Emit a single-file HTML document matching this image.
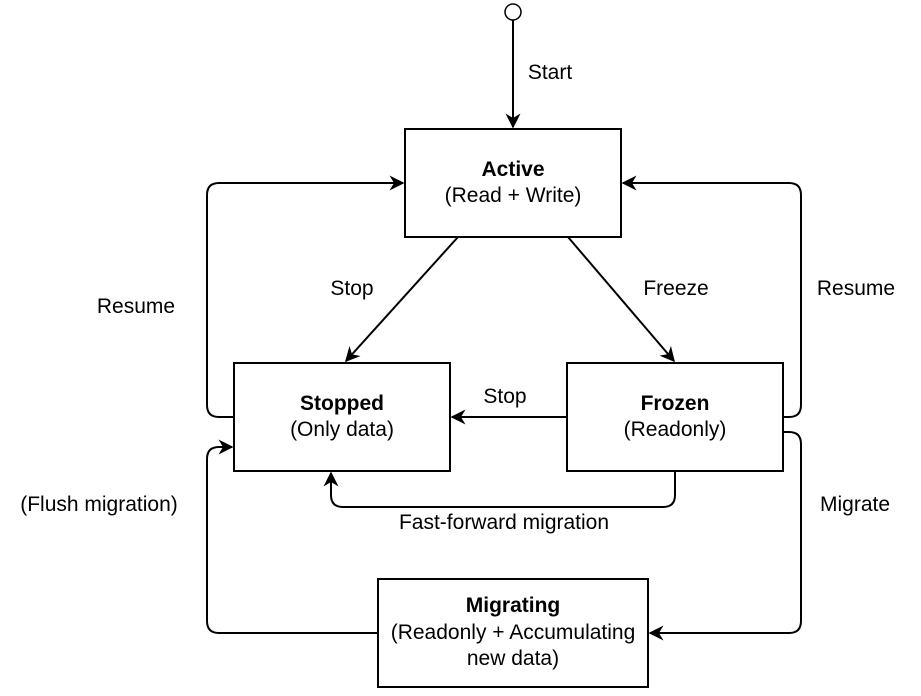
<!DOCTYPE html>
<html><head><style>body{margin:0;background:#fff}svg{display:block}text{font-family:"Liberation Sans",Arial,sans-serif;font-size:21px;fill:#000}</style></head>
<body>
<svg width="921" height="696" viewBox="0 0 921 696" xmlns="http://www.w3.org/2000/svg">
<defs><marker id="a" viewBox="0 0 10 10" refX="9" refY="5" markerWidth="15" markerHeight="15" markerUnits="userSpaceOnUse" orient="auto"><path d="M0,0 L10,5 L0,10 L3,5 z" fill="#000"/></marker></defs>
<g fill="none" stroke="#000" stroke-width="2">
<circle cx="513" cy="12" r="8" stroke-width="1.5"/>
<line x1="513" y1="20" x2="513" y2="127" marker-end="url(#a)"/>
<rect x="405" y="129" width="216" height="108"/>
<rect x="234" y="363" width="216" height="108"/>
<rect x="567" y="363" width="216" height="108"/>
<rect x="378" y="579" width="270" height="108"/>
<line x1="458" y1="237" x2="346" y2="361" marker-end="url(#a)"/>
<line x1="568" y1="237" x2="674" y2="361" marker-end="url(#a)"/>
<line x1="567" y1="417" x2="452" y2="417" marker-end="url(#a)"/>
<path d="M675,471 V495 Q675,507 663,507 H343 Q331,507 331,495 V473" marker-end="url(#a)"/>
<path d="M234,417 H219 Q207,417 207,405 V195 Q207,183 219,183 H403" marker-end="url(#a)"/>
<path d="M783,417 H789 Q801,417 801,405 V195 Q801,183 789,183 H623" marker-end="url(#a)"/>
<path d="M783,432 H789 Q801,432 801,444 V621 Q801,633 789,633 H650" marker-end="url(#a)"/>
<path d="M378,633 H219 Q207,633 207,621 V459 Q207,447 219,447 H232" marker-end="url(#a)"/>
</g>
<g text-anchor="middle">
<text x="513" y="176" font-weight="bold">Active</text>
<text x="513" y="202">(Read + Write)</text>
<text x="342" y="410" font-weight="bold">Stopped</text>
<text x="342" y="436">(Only data)</text>
<text x="675" y="410" font-weight="bold">Frozen</text>
<text x="675" y="436">(Readonly)</text>
<text x="513" y="612" font-weight="bold">Migrating</text>
<text x="513" y="639">(Readonly + Accumulating</text>
<text x="513" y="665">new data)</text>
<text x="550" y="79">Start</text>
<text x="352" y="295">Stop</text>
<text x="676" y="295">Freeze</text>
<text x="505" y="403">Stop</text>
<text x="504" y="529">Fast-forward migration</text>
<text x="136" y="313">Resume</text>
<text x="856" y="295">Resume</text>
<text x="855" y="511">Migrate</text>
<text x="99" y="511">(Flush migration)</text>
</g>
</svg>
</body></html>
